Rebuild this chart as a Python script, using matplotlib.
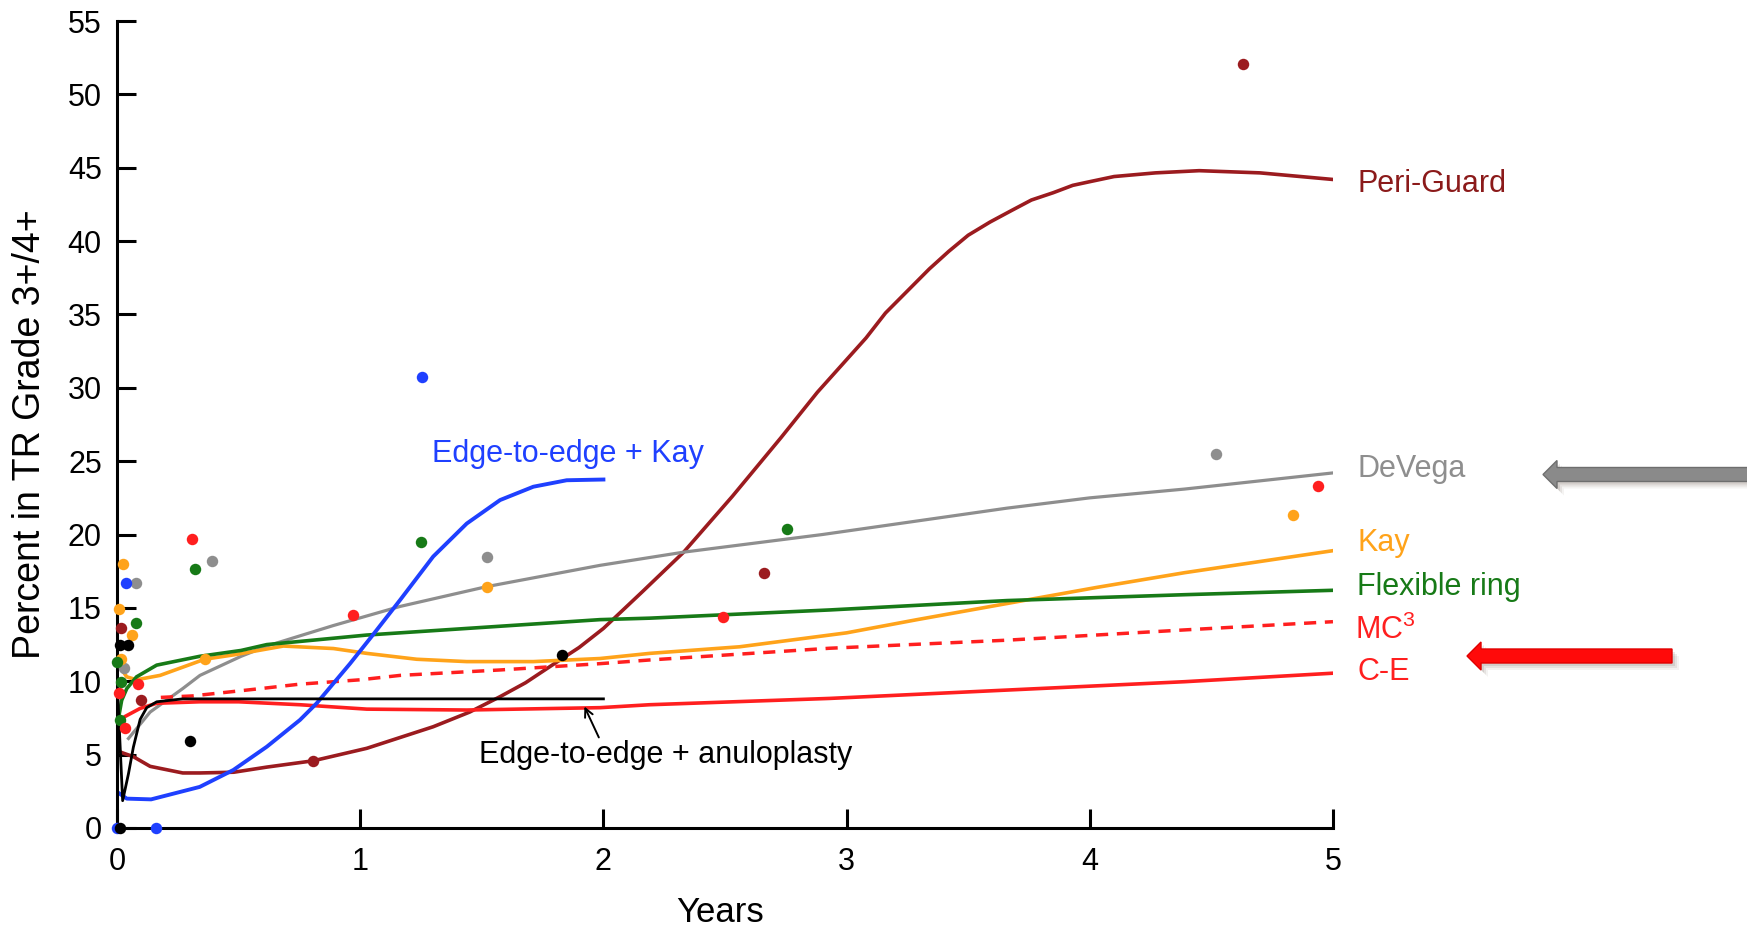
import numpy as np
import matplotlib
matplotlib.use("Agg")
import matplotlib.pyplot as plt
from matplotlib.patches import FancyArrow

plt.rcParams['font.family'] = ['Liberation Sans', 'DejaVu Sans']
plt.rcParams['mathtext.default'] = 'regular'

# ---- fitted curves (years, percent) ----
peri_x = [0.01, 0.026, 0.067, 0.136, 0.27, 0.341, 0.48, 0.616, 0.807, 1.027, 1.30, 1.45,
          1.575, 1.68, 1.78, 1.9, 2.0, 2.16, 2.33, 2.53, 2.73, 2.88, 3.08, 3.16, 3.25, 3.34,
          3.42, 3.5, 3.59, 3.68, 3.76, 3.85, 3.93, 4.0, 4.10, 4.27, 4.45, 4.70, 5.0]
peri_y = [5.2, 5.1, 4.86, 4.2, 3.75, 3.75, 3.8, 4.15, 4.58, 5.43, 6.9, 7.9,
          8.95, 9.9, 11.0, 12.3, 13.6, 16.1, 18.8, 22.6, 26.6, 29.7, 33.4, 35.1, 36.6, 38.1,
          39.3, 40.4, 41.3, 42.1, 42.8, 43.3, 43.8, 44.05, 44.4, 44.65, 44.8, 44.65, 44.2]

devega_x = [0.047, 0.136, 0.27, 0.341, 0.51, 0.616, 0.89, 1.164, 1.52, 1.986, 2.33, 2.9,
            3.66, 4.0, 4.39, 5.0]
devega_y = [6.1, 7.9, 9.5, 10.4, 11.7, 12.4, 13.8, 15.1, 16.45, 17.9, 18.8, 20.0,
            21.8, 22.5, 23.1, 24.2]

kay_x = [0.012, 0.019, 0.04, 0.08, 0.177, 0.36, 0.48, 0.684, 0.89, 1.027, 1.232, 1.438,
         1.712, 1.986, 2.19, 2.56, 3.0, 3.29, 3.66, 4.03, 4.39, 5.0]
kay_y = [11.45, 10.8, 10.3, 10.1, 10.4, 11.5, 11.8, 12.4, 12.23, 11.9, 11.5, 11.34,
         11.34, 11.55, 11.9, 12.35, 13.3, 14.2, 15.3, 16.4, 17.4, 18.9]

flex_x = [0.005, 0.019, 0.04, 0.08, 0.163, 0.34, 0.51, 0.616, 1.027, 1.438, 1.986, 2.19,
          2.93, 3.66, 4.39, 5.0]
flex_y = [7.4, 8.7, 9.5, 10.3, 11.1, 11.7, 12.1, 12.5, 13.15, 13.6, 14.2, 14.3,
          14.86, 15.5, 15.9, 16.2]

mc3_x = [0.18, 0.31, 0.59, 0.75, 1.0, 1.164, 1.575, 1.986, 2.19, 2.93, 3.66, 4.39, 5.0]
mc3_y = [8.9, 9.0, 9.5, 9.8, 10.1, 10.4, 10.77, 11.2, 11.45, 12.25, 12.8, 13.5, 14.06]

ce_x = [0.005, 0.033, 0.095, 0.163, 0.34, 0.5, 0.752, 1.027, 1.438, 1.986, 2.19, 2.93,
        3.66, 4.39, 5.0]
ce_y = [7.2, 7.6, 8.15, 8.5, 8.6, 8.6, 8.4, 8.1, 8.04, 8.2, 8.4, 8.83,
        9.4, 9.97, 10.55]

e2ek_x = [0.005, 0.04, 0.14, 0.34, 0.478, 0.616, 0.752, 0.821, 0.89, 0.958, 1.054, 1.164,
          1.30, 1.438, 1.575, 1.712, 1.849, 2.0]
e2ek_y = [2.4, 2.0, 1.95, 2.8, 3.95, 5.54, 7.36, 8.5, 9.86, 11.2, 13.2, 15.54,
          18.5, 20.75, 22.35, 23.26, 23.7, 23.75]

e2ea_x = [0.004, 0.023, 0.047, 0.067, 0.095, 0.122, 0.163, 0.27, 2.0]
e2ea_y = [8.7, 1.86, 3.7, 5.5, 7.4, 8.2, 8.6, 8.8, 8.8]

# ---- observed points ----
peri_px = [0.016, 0.10, 0.807, 2.66, 4.63]
peri_py = [13.65, 8.7, 4.58, 17.4, 52.1]
devega_px = [0.029, 0.078, 0.39, 1.52, 4.52]
devega_py = [10.9, 16.7, 18.2, 18.5, 25.5]
kay_px = [0.01, 0.016, 0.026, 0.06, 0.362, 1.52, 4.835]
kay_py = [14.9, 11.5, 18.0, 13.15, 11.55, 16.4, 21.3]
flex_px = [0.0, 0.012, 0.016, 0.078, 0.32, 1.249, 2.754]
flex_py = [11.3, 7.36, 9.97, 14.0, 17.65, 19.46, 20.4]
red_px = [0.01, 0.033, 0.088, 0.31, 0.972, 2.49, 4.94]
red_py = [9.2, 6.8, 9.8, 19.7, 14.5, 14.4, 23.3]
e2ek_px = [0.0, 0.036, 0.159, 1.253]
e2ek_py = [0.0, 16.7, 0.0, 30.76]
e2ea_px = [0.012, 0.047, 0.012, 0.30, 1.83]
e2ea_py = [12.5, 12.5, 0.0, 5.9, 11.8]

c_peri = '#9b1b1f'
c_gray = '#8e8e8e'
c_kay = '#ffa31a'
c_flex = '#177a17'
c_red = '#ff1f1f'
c_blue = '#1f40ff'

fig = plt.figure(figsize=(17.47, 9.30), dpi=100)
ax = fig.add_axes([0.067, 0.1097, 0.696, 0.8677])

ax.plot(peri_x, peri_y, color=c_peri, lw=2.6)
ax.plot(devega_x, devega_y, color=c_gray, lw=2.3)
ax.plot(kay_x, kay_y, color=c_kay, lw=2.6)
ax.plot(flex_x, flex_y, color=c_flex, lw=2.6)
ax.plot(mc3_x, mc3_y, color=c_red, lw=2.5, ls=(0, (3.5, 2.5)))
ax.plot(ce_x, ce_y, color=c_red, lw=2.6)
ax.plot(e2ek_x, e2ek_y, color=c_blue, lw=2.8)
ax.plot(e2ea_x, e2ea_y, color='black', lw=2.0)

for px, py, c in [(peri_px, peri_py, c_peri), (devega_px, devega_py, c_gray),
                  (kay_px, kay_py, c_kay), (flex_px, flex_py, c_flex),
                  (red_px, red_py, c_red), (e2ek_px, e2ek_py, c_blue),
                  (e2ea_px, e2ea_py, 'black')]:
    ax.scatter(px, py, s=68, color=c, zorder=4, clip_on=False, linewidths=0)

ax.set_xlim(0, 5)
ax.set_ylim(0, 55)
ax.set_xticks(range(0, 6))
ax.set_yticks(range(0, 60, 5))
for s in ['top', 'right']:
    ax.spines[s].set_visible(False)
for s in ['left', 'bottom']:
    ax.spines[s].set_linewidth(2.2)
ax.tick_params(axis='both', direction='in', length=13.5, width=2.2, labelsize=22)
ax.tick_params(axis='y', pad=11)
ax.tick_params(axis='x', pad=14)

fig.text(30 / 1747, 1 - 434 / 930, 'Percent in TR Grade 3+/4+', fontsize=27,
         rotation=90, ha='center', va='center')
fig.text(720 / 1747, 1 - 912 / 930, 'Years', fontsize=25, ha='center', va='center')

# curve labels at the right
lx = 5.10
ax.text(lx, 43.9, 'Peri-Guard', color='#8b1a1a', fontsize=22, va='center')
ax.text(lx, 24.5, 'DeVega', color=c_gray, fontsize=22, va='center')
ax.text(lx, 19.45, 'Kay', color=c_kay, fontsize=22, va='center')
ax.text(lx, 16.4, 'Flexible ring', color=c_flex, fontsize=22, va='center')
ax.text(lx - 0.01, 13.5, 'MC$^{3}$', color=c_red, fontsize=22, va='center')
ax.text(lx, 10.6, 'C-E', color=c_red, fontsize=22, va='center')

ax.text(1.297, 25.5, 'Edge-to-edge + Kay', color=c_blue, fontsize=22, va='center')
ax.text(1.49, 4.97, 'Edge-to-edge + anuloplasty', color='black', fontsize=22, va='center')
ax.annotate('', xy=(1.917, 8.45), xytext=(1.986, 6.0),
            arrowprops=dict(arrowstyle='->', lw=1.4, color='black', mutation_scale=15))

# pointer arrows drawn in pixel space
ov = fig.add_axes([0, 0, 1, 1], facecolor='none')
ov.set_xlim(0, 1747)
ov.set_ylim(930, 0)
ov.axis('off')

def block_arrow(tip_x, tail_x, y, color, edge):
    for off, a in [(7, 0.08), (5, 0.12), (3, 0.16)]:
        ov.add_patch(FancyArrow(tail_x + off, y + off, tip_x - tail_x, 0, width=14,
                                head_width=28, head_length=14, length_includes_head=True,
                                color='#7a6a60', alpha=a, lw=0))
    ov.add_patch(FancyArrow(tail_x, y, tip_x - tail_x, 0, width=14, head_width=28,
                            head_length=14, length_includes_head=True,
                            facecolor=color, edgecolor=edge, lw=1))

block_arrow(1543, 1750, 474.5, '#8a8a8a', '#6e6e6e')
block_arrow(1467, 1672, 656, '#ff0a0a', '#e00000')

fig.savefig('out.png', dpi=100)
